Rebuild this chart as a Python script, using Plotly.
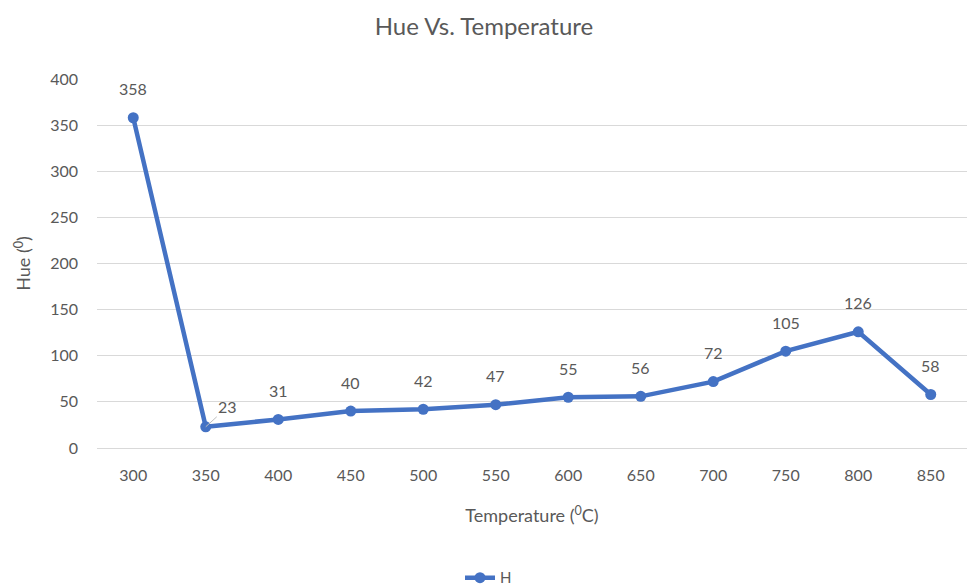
import plotly.graph_objects as go

temperature = ["300", "350", "400", "450", "500", "550", "600", "650", "700", "750", "800", "850"]
hue = [358, 23, 31, 40, 42, 47, 55, 56, 72, 105, 126, 58]

FONT = "Lato, 'Open Sans', sans-serif"
GREY = "#595959"

fig = go.Figure()
fig.add_trace(go.Scatter(
    x=temperature, y=hue, mode="lines+markers", name="H",
    line=dict(color="#4472C4", width=4.5),
    marker=dict(color="#4472C4", size=11),
))

annotations = []
for i, h in enumerate(hue):
    if h == 23:
        annotations.append(dict(x=i, y=h, xref="x", yref="y", text=str(h), showarrow=True, arrowhead=0,
                                arrowwidth=1, arrowcolor="#BFBFBF", ax=22, ay=-20,
                                font=dict(size=16, color=GREY, family=FONT)))
    else:
        annotations.append(dict(x=i, y=h, xref="x", yref="y", text=str(h), showarrow=False, yshift=29,
                                font=dict(size=16, color=GREY, family=FONT)))

fig.update_layout(
    width=968, height=588,
    margin=dict(l=97, r=1, t=79, b=140, autoexpand=False),
    paper_bgcolor="white", plot_bgcolor="white",
    title=dict(text="Hue Vs. Temperature", x=0.5, xanchor="center", y=0.955, yanchor="middle",
               font=dict(size=24, color=GREY, family=FONT)),
    font=dict(family=FONT, color=GREY, size=16),
    xaxis=dict(type="category", showgrid=False, showline=False, ticks="", automargin=False,
               range=[-0.5, 11.5], ticklabelstandoff=16,
               tickfont=dict(size=16, color=GREY),
               title=dict(text="Temperature (<sup>0</sup>C)", font=dict(size=18, color=GREY), standoff=26)),
    yaxis=dict(range=[0, 400], dtick=50, showgrid=True, gridcolor="#D9D9D9", gridwidth=1,
               zeroline=True, zerolinecolor="#D9D9D9", zerolinewidth=1, showline=False, automargin=False,
               ticks="", ticklabelstandoff=18, tickfont=dict(size=16, color=GREY),
               title=dict(text="Hue (<sup>0</sup>)", font=dict(size=18, color=GREY), standoff=14)),
    showlegend=True,
    legend=dict(orientation="h", x=0.45, xanchor="center", y=-0.352, yanchor="middle",
                font=dict(size=15, color=GREY)),
    annotations=annotations,
)

fig.write_html("out.html")
